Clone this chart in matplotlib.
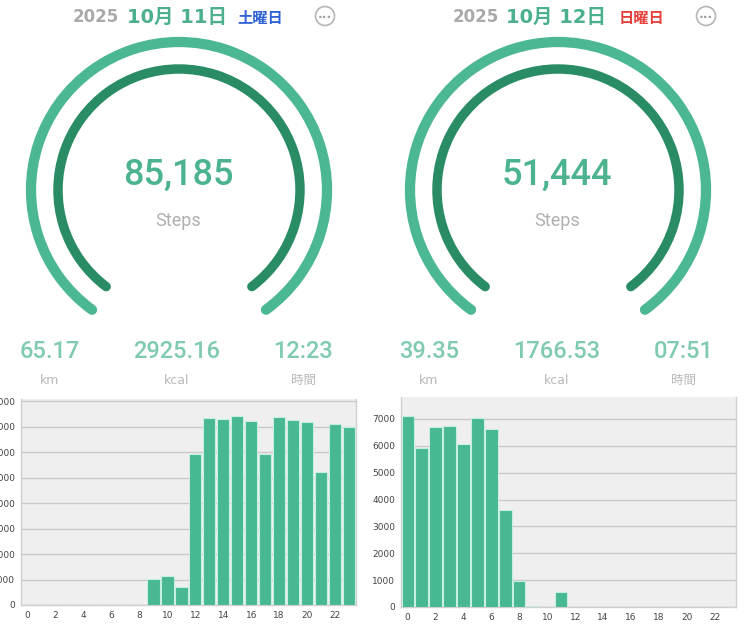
import matplotlib
matplotlib.use("Agg")
import matplotlib.pyplot as plt
from matplotlib.patches import Arc, Circle

plt.rcParams['font.family'] = ['DejaVu Sans', 'Noto Sans CJK JP']

# hourly steps
hours = list(range(24))
steps_oct11 = [0, 0, 0, 0, 0, 0, 0, 0, 0, 1040, 1150, 700,
               5930, 7330, 7285, 7420, 7220, 5930, 7390, 7280, 7170, 5240, 7100, 7000]
steps_oct12 = [7130, 5920, 6720, 6740, 6060, 7040, 6630, 3614, 970, 50, 0, 570,
               0, 0, 0, 0, 0, 0, 0, 0, 0, 0, 0, 0]

# day summaries
years = ["2025", "2025"]
dates = ["10月 11日", "10月 12日"]
weekdays = ["土曜日", "日曜日"]
weekday_colors = ["#2f62d4", "#e5403c"]
totals = ["85,185", "51,444"]
distances = ["65.17", "39.35"]
calories = ["2925.16", "1766.53"]
durations = ["12:23", "07:51"]
stat_units = ["km", "kcal", "時間"]

W, H = 747, 633
GREEN = "#4cb893"
DARK = "#2a8c65"
BAR = "#47b891"
NUM_FONT = ['Roboto', 'DejaVu Sans']

fig = plt.figure(figsize=(W / 100, H / 100), dpi=100)

# overlay in pixel coords for the gauge part
ov = fig.add_axes([0, 0, 1, 1])
ov.set_xlim(0, W)
ov.set_ylim(0, H)
ov.axis('off')

def Y(y):
    return H - y

panels = [
    dict(cx=179, head=(73, 127, 237), dot=325, stats=(50, 177, 303)),
    dict(cx=558, head=(453, 506, 619), dot=706, stats=(429, 557, 684)),
]

for i, p in enumerate(panels):
    cx, cy = p['cx'], 190
    # header
    ov.text(p['head'][0], Y(17), years[i], fontsize=12, fontweight='bold',
            color='#a9a9a9', ha='left', va='center')
    ov.text(p['head'][1], Y(17), dates[i], fontsize=14, fontweight='bold',
            color='#4cb08c', ha='left', va='center')
    ov.text(p['head'][2], Y(18), weekdays[i], fontsize=11, fontweight='bold',
            color=weekday_colors[i], ha='left', va='center')
    ov.add_patch(Circle((p['dot'], Y(16)), 9.5, fill=False, ec='#b5b5b5', lw=1.2))
    ov.text(p['dot'], Y(17), "···", fontsize=9, color='#a0a0a0', ha='center',
            va='center', fontweight='bold')

    # gauge rings
    ov.add_patch(Arc((cx, Y(cy)), 2 * 148, 2 * 148, theta1=-54, theta2=234,
                     color=GREEN, lw=7.4, capstyle='round'))
    ov.add_patch(Arc((cx, Y(cy)), 2 * 121, 2 * 121, theta1=-53, theta2=233,
                     color=DARK, lw=6.8, capstyle='round'))
    ov.text(cx - 1, Y(175), totals[i], fontsize=26, color='#4cb38f',
            ha='center', va='center', family=NUM_FONT, fontweight='medium')
    ov.text(cx - 1, Y(221), "Steps", fontsize=13, color='#b0b0b0',
            ha='center', va='center', family=NUM_FONT)

    # stats row
    vals = [distances[i], calories[i], durations[i]]
    for x, v, u in zip(p['stats'], vals, stat_units):
        ov.text(x, Y(352), v, fontsize=17, color='#80cbb0', ha='center', va='center',
                family=NUM_FONT, fontweight='medium')
        ov.text(x, Y(380), u, fontsize=9, color='#b8b8b8', ha='center', va='center')

# bar charts
bar_specs = [
    ([20.7 / W, 1 - 605 / H, 335.3 / W, 206 / H], steps_oct11, 8090, range(0, 8001, 1000)),
    ([400.7 / W, 1 - 607 / H, 335 / W, 210.3 / H], steps_oct12, 7830, range(0, 7001, 1000)),
]
for rect, data, top, yt in bar_specs:
    ax = fig.add_axes(rect)
    ax.set_facecolor('#efefef')
    ax.bar(hours, data, width=0.88, color=BAR, edgecolor='#c6efdd', linewidth=0.8, zorder=3)
    ax.set_xlim(-0.5, 23.5)
    ax.set_ylim(0, top)
    ax.set_yticks(list(yt))
    ax.set_xticks(list(range(0, 23, 2)))
    ax.yaxis.grid(True, color='#c9c9c9', lw=1, zorder=1)
    ax.tick_params(length=0, labelsize=6.5, colors='#444444', pad=4)
    for s in ['left', 'right', 'bottom']:
        ax.spines[s].set_color('#cfcfcf')
        ax.spines[s].set_linewidth(1)
    ax.spines['top'].set_visible(False)

fig.savefig("out.png", dpi=100)
